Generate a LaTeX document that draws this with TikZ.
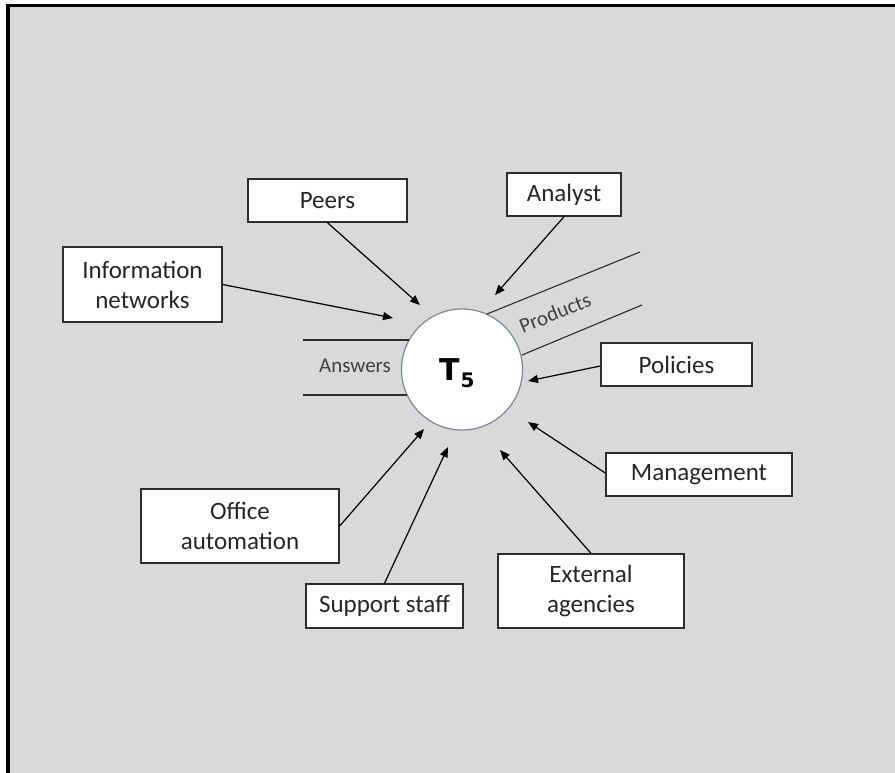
\documentclass[tikz,border=0pt]{standalone}
\usepackage{fontspec}
\setmainfont{Carlito}
\newfontfamily\tfont{DejaVu Sans}
\usetikzlibrary{arrows.meta}
\definecolor{bg}{RGB}{217,217,217}
\definecolor{boxline}{RGB}{45,45,45}
\definecolor{txt}{RGB}{38,38,38}
\definecolor{lbltxt}{RGB}{64,64,64}
\definecolor{circline}{RGB}{125,135,150}
\tikzset{
  ent/.style={draw=boxline, line width=1.4pt, fill=white, text=txt,
    font=\fontsize{25}{30}\selectfont, align=center, inner sep=0pt},
  flow/.style={draw=black, line width=1.2pt, -{Triangle[length=10pt,width=8pt]}},
  storeline/.style={draw=boxline, line width=1.1pt},
  lbl/.style={text=lbltxt, font=\fontsize{21}{24}\selectfont, inner sep=0pt}
}
\begin{document}
\begin{tikzpicture}[x=1pt,y=-1pt]
\useasboundingbox (0,0) rectangle (895,772);
\clip (0,0) rectangle (895,772);
\fill[white] (0,0) rectangle (895,772);
\draw[line width=3.6pt, fill=bg] (8,5.6) rectangle (910,790);

% central process
\node[circle, draw=circline, fill=white, line width=1.2pt, minimum size=121pt, inner sep=0pt] (c) at (462,369.5) {};
\node[anchor=base west, inner sep=0pt] (t5) at (439,380)
  {\tfont\bfseries\fontsize{30}{30}\selectfont T\kern1pt\raisebox{-7pt}{\fontsize{20}{20}\selectfont 5}};

% external entities
\node[ent, minimum width=159pt, minimum height=75pt] (info) at (142.5,284.5) {Information\\networks};
\node[ent, minimum width=159pt, minimum height=43pt] (peers) at (327.5,200.5) {Peers};
\node[ent, minimum width=114pt, minimum height=43pt] (analyst) at (564,194.5) {Analyst};
\node[ent, minimum width=151pt, minimum height=43pt] (policies) at (676.5,364.5) {Policies};
\node[ent, minimum width=186pt, minimum height=43pt] (mgmt) at (699,474.5) {Management};
\node[ent, minimum width=186pt, minimum height=74pt] (ext) at (591,591) {External\\agencies};
\node[ent, minimum width=157pt, minimum height=44pt] (support) at (384.5,606) {Support staff};
\node[ent, minimum width=198pt, minimum height=74pt] (office) at (240,526) {Office\\automation};

% arrow tips near the process
\coordinate (tinfo) at (393,318);
\coordinate (tpeers) at (420,305);
\coordinate (tanalyst) at (495,295);
\coordinate (tpolicies) at (528,381);
\coordinate (tmgmt) at (528,422);
\coordinate (text) at (500,450);
\coordinate (tsupport) at (448,447);
\coordinate (toffice) at (424,429);

\draw[flow] (info.east) -- (tinfo);
\draw[flow] (peers.south) -- (tpeers);
\draw[flow] (analyst.south) -- (tanalyst);
\draw[flow] (policies.west |- 0,366) -- (tpolicies);
\draw[flow] (mgmt.west |- 0,473) -- (tmgmt);
\draw[flow] (ext.north) -- (text);
\draw[flow] (support.north) -- (tsupport);
\draw[flow] (office.east) -- (toffice);

% data stores
\coordinate (a1) at (303,340);
\coordinate (a2) at (303,395);
\coordinate (a1c) at (409,340);
\coordinate (a2c) at (407,395);
\draw[storeline] (a1) -- (a1c);
\draw[storeline] (a2) -- (a2c);
\node[lbl] (ans) at (355,366) {Answers};

\coordinate (p1c) at (487,314);
\coordinate (p1) at (640,252);
\coordinate (p2c) at (522,355);
\coordinate (p2) at (642,305);
\draw[storeline] (p1c) -- (p1);
\draw[storeline] (p2c) -- (p2);
\node[lbl, rotate=22] (prod) at (555,313) {Products};
\end{tikzpicture}
\end{document}
